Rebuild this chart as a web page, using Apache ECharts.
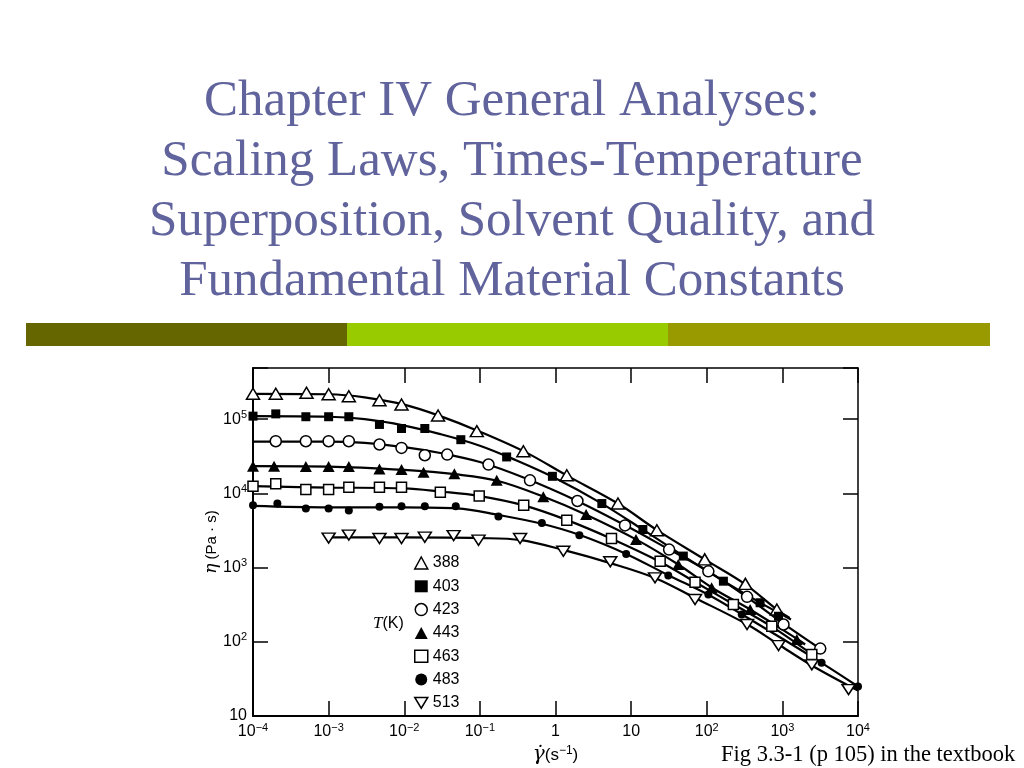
<!DOCTYPE html>
<html><head><meta charset="utf-8">
<script src="https://cdn.jsdelivr.net/npm/echarts@6/dist/echarts.min.js"></script>
<style>html,body{margin:0;padding:0;background:#fff}#c{width:1024px;height:768px}</style>
</head><body><div id="c"></div>
<script>
// ---------- text ----------
const titleLines = [
  'Chapter IV General Analyses:',
  'Scaling Laws, Times-Temperature',
  'Superposition, Solvent Quality, and',
  'Fundamental Material Constants'
];
const caption = 'Fig 3.3-1 (p 105) in the textbook';
const temps = ['388', '403', '423', '443', '463', '483', '513'];

// ---------- measured points [shear rate s^-1, viscosity Pa.s] ----------
const pts388 = [[1e-4,2.2e5],[2e-4,2.2e5],[5.1e-4,2.27e5],[1e-3,2.17e5],[1.85e-3,2.04e5],[4.7e-3,1.8e5],[9.2e-3,1.58e5],[0.028,1.12e5],[0.091,6.9e4],[0.376,3.7e4],[1.41,1.76e4],[6.7,7.3e3],[21.9,3.19e3],[94,1.29e3],[324,603],[845,272]];
const pts403 = [[1e-4,1.1e5],[2e-4,1.18e5],[5e-4,1.08e5],[1e-3,1.08e5],[1.85e-3,1.08e5],[4.7e-3,8.5e4],[9.2e-3,7.5e4],[0.0187,7.5e4],[0.056,5.3e4],[0.226,3.1e4],[0.91,1.7e4],[4.1,7.3e3],[14.3,3.26e3],[49,1.43e3],[166,656],[508,336],[888,221]];
const pts423 = [[2e-4,5.05e4],[5e-4,5.05e4],[1e-3,5.05e4],[1.85e-3,5.05e4],[4.7e-3,4.56e4],[9.2e-3,4.1e4],[0.0187,3.27e4],[0.037,3.34e4],[0.13,2.45e4],[0.46,1.5e4],[1.95,7.9e3],[8.3,3.7e3],[31.8,1.75e3],[105,890],[341,404],[1035,171],[3170,81]];
const pts443 = [[1e-4,2.33e4],[1.9e-4,2.33e4],[5e-4,2.3e4],[1e-3,2.3e4],[1.85e-3,2.3e4],[4.7e-3,2.14e4],[9.2e-3,2.1e4],[0.018,1.93e4],[0.046,1.84e4],[0.167,1.5e4],[0.69,9e3],[2.54,5.2e3],[11.6,2.4e3],[42,1.1e3],[116,535],[375,272],[1550,107]];
const pts463 = [[1e-4,1.25e4],[2e-4,1.35e4],[5e-4,1.13e4],[1e-3,1.13e4],[1.85e-3,1.21e4],[4.7e-3,1.21e4],[9.2e-3,1.21e4],[0.030,1.04e4],[0.098,9.2e3],[0.38,6.9e3],[1.41,4.35e3],[5.5,2.47e3],[24.2,1.22e3],[70,636],[225,318],[725,162],[2450,67.5]];
const pts483 = [[1e-4,6.9e3],[2.1e-4,7.3e3],[5e-4,6.25e3],[1e-3,6.25e3],[1.85e-3,5.9e3],[4.7e-3,6.6e3],[9.2e-3,6.7e3],[0.0187,6.7e3],[0.048,6.7e3],[0.176,4.9e3],[0.66,4.0e3],[2.07,2.74e3],[8.6,1.53e3],[31,783],[105,434],[290,233],[3300,52],[1e4,25]];
const pts513 = [[1e-3,2.5e3],[1.85e-3,2.74e3],[4.7e-3,2.47e3],[9.2e-3,2.47e3],[0.0187,2.57e3],[0.045,2.7e3],[0.096,2.34e3],[0.34,2.47e3],[1.27,1.66e3],[5.3,1.2e3],[20.7,728],[70,372],[341,171],[890,89],[2450,49],[7500,22.7]];

// ---------- fitted curves ----------
const fit388 = [[1e-4,2.2e5],[1e-3,2.17e5],[3e-3,1.97e5],[1e-2,1.57e5],[0.03,1.1e5],[0.1,6.8e4],[0.4,3.6e4],[1.4,1.75e4],[6.7,7.3e3],[22,3.2e3],[95,1.28e3],[320,600],[850,272],[1250,210]];
const fit403 = [[1e-4,1.1e5],[1e-3,1.08e5],[3e-3,1.0e5],[1e-2,8.2e4],[0.03,6.3e4],[0.1,4.4e4],[0.3,2.8e4],[1,1.6e4],[4,7.4e3],[14,3.3e3],[50,1.42e3],[170,650],[500,340],[1300,200]];
const fit423 = [[1e-4,5.0e4],[1e-3,5.0e4],[3e-3,4.8e4],[1e-2,4.2e4],[0.03,3.5e4],[0.1,2.65e4],[0.4,1.6e4],[2,7.8e3],[8,3.8e3],[32,1.75e3],[105,890],[340,400],[1000,180],[3200,80]];
const fit443 = [[1e-4,2.33e4],[1e-3,2.3e4],[1e-2,2.07e4],[0.05,1.8e4],[0.17,1.48e4],[0.7,9.0e3],[2.5,5.2e3],[11.6,2.4e3],[42,1.1e3],[116,540],[375,272],[1550,110],[2000,92]];
const fit463 = [[1e-4,1.25e4],[1e-3,1.2e4],[1e-2,1.17e4],[0.03,1.06e4],[0.1,9.2e3],[0.38,6.9e3],[1.4,4.4e3],[5.5,2.45e3],[24,1.2e3],[70,640],[225,320],[725,160],[2450,68]];
const fit483 = [[1e-4,6.8e3],[1e-3,6.5e3],[1e-2,6.5e3],[0.05,6.3e3],[0.18,5.1e3],[0.66,3.9e3],[2.1,2.75e3],[8.6,1.53e3],[31,790],[105,430],[290,235],[1000,110],[3300,52],[1e4,25]];
const fit513 = [[1e-3,2.55e3],[1e-2,2.55e3],[0.1,2.5e3],[0.35,2.35e3],[1.3,1.72e3],[5.3,1.15e3],[21,720],[70,390],[340,172],[890,92],[2450,48],[1e4,22]];

const points = [pts388, pts403, pts423, pts443, pts463, pts483, pts513];
const fits = [fit388, fit403, fit423, fit443, fit463, fit483, fit513];

// ---------- marker styles ----------
const INV_TRI = 'path://M0,0L12,0L6,10Z';
const markers = [
  {symbol: 'triangle', size: [13, 11], fill: '#fff'},
  {symbol: 'rect', size: [9, 9], fill: '#000'},
  {symbol: 'circle', size: 11, fill: '#fff'},
  {symbol: 'triangle', size: [12, 11], fill: '#000'},
  {symbol: 'rect', size: [10, 10], fill: '#fff'},
  {symbol: 'circle', size: 8, fill: '#000'},
  {symbol: INV_TRI, size: [13, 10], fill: '#fff'}
];

const SANS = 'Liberation Sans';
const SERIF = 'Liberation Serif';

function expOf(v) {
  const l = Math.log10(v);
  const e = Math.round(l);
  return Math.abs(l - e) < 1e-6 ? e : null;
}
function powLabel(v) {
  const e = expOf(v);
  if (e === null) return '';
  if (e === 0) return '{n|1}';
  if (e === 1) return '{n|10}';
  return '{n|10}{s|' + String(e).replace('-', '\u2212') + '}';
}
const richLab = {
  n: {fontSize: 16, fontFamily: SANS, color: '#000', lineHeight: 20},
  s: {fontSize: 11, fontFamily: SANS, color: '#000', verticalAlign: 'top', lineHeight: 13}
};

const series = [];
temps.forEach((t, i) => {
  series.push({
    name: t + ' fit', type: 'line', data: fits[i], showSymbol: false, symbol: 'none',
    smooth: 0.35, lineStyle: {color: '#000', width: 2.2}, z: 2, silent: true
  });
});
temps.forEach((t, i) => {
  const m = markers[i];
  series.push({
    name: t, type: 'scatter', data: points[i], symbol: m.symbol, symbolSize: m.size,
    itemStyle: {color: m.fill, borderColor: '#000', borderWidth: m.fill === '#fff' ? 1.5 : 0, opacity: 1},
    z: 3, silent: true
  });
});

const titleGraphics = titleLines.map((line, i) => ({
  type: 'text', silent: true,
  style: {x: 512, y: 102 + i * 60, text: line, textAlign: 'center', textVerticalAlign: 'middle',
    fill: '#60639c', font: '51px ' + SERIF}
}));

const chart = echarts.init(document.getElementById('c'), null, {renderer: 'canvas'});
const axisCommon = {
  type: 'log', logBase: 10,
  splitLine: {show: false},
  axisLine: {show: true, onZero: false, lineStyle: {color: '#000', width: 2}},
  axisTick: {show: true, inside: true, length: 15, lineStyle: {color: '#000', width: 1.5}}
};
chart.setOption({
  animation: false,
  backgroundColor: '#fff',
  grid: {left: 253, right: 166, top: 368, bottom: 52, containLabel: false},
  xAxis: [
    Object.assign({}, axisCommon, {
      position: 'bottom', min: 1e-4, max: 1e4,
      axisLabel: {formatter: powLabel, rich: richLab, margin: 6},
      name: '{g|\u03B3\u0307}{p|(s}{s|\u22121}{p|)}', nameLocation: 'middle', nameGap: 29,
      nameMoveOverlap: false,
      nameTextStyle: {rich: {
        g: {fontSize: 20, fontFamily: 'DejaVu Serif', color: '#000', fontStyle: 'italic'},
        p: {fontSize: 17, fontFamily: SANS, color: '#000'},
        s: {fontSize: 12, fontFamily: SANS, color: '#000', verticalAlign: 'top'}
      }}
    }),
    Object.assign({}, axisCommon, {
      position: 'top', min: 1e-4, max: 1e4, axisLabel: {show: false},
      axisLine: {show: true, onZero: false, lineStyle: {color: '#000', width: 1.5}}
    })
  ],
  yAxis: [
    Object.assign({}, axisCommon, {
      position: 'left', min: 10, max: 4.9e5,
      axisLabel: {formatter: powLabel, rich: richLab, margin: 6},
      name: '{i|\u03B7} (Pa \u00B7 s)', nameLocation: 'middle', nameGap: 33, nameRotate: 90,
      nameMoveOverlap: false,
      nameTextStyle: {fontSize: 15, fontFamily: SANS, color: '#000', rich: {
        i: {fontSize: 17, fontFamily: 'DejaVu Serif', fontStyle: 'italic', color: '#000'}
      }}
    }),
    Object.assign({}, axisCommon, {
      position: 'right', min: 10, max: 4.9e5, axisLabel: {show: false},
      axisLine: {show: true, onZero: false, lineStyle: {color: '#000', width: 1.5}}
    })
  ],
  legend: {
    orient: 'vertical', left: 409, top: 550, itemWidth: 13, itemHeight: 12, itemGap: 7.3,
    selectedMode: false,
    textStyle: {fontSize: 16, fontFamily: SANS, color: '#000', lineHeight: 16},
    data: temps.map((t, i) => ({
      name: t,
      icon: markers[i].symbol,
      itemStyle: {color: markers[i].fill, borderColor: '#000', borderWidth: markers[i].fill === '#fff' ? 1.5 : 0}
    }))
  },
  graphic: titleGraphics.concat([
    {type: 'rect', shape: {x: 26, y: 323, width: 321, height: 23}, style: {fill: '#666600'}, silent: true},
    {type: 'rect', shape: {x: 347, y: 323, width: 321, height: 23}, style: {fill: '#99cc00'}, silent: true},
    {type: 'rect', shape: {x: 668, y: 323, width: 322, height: 23}, style: {fill: '#999900'}, silent: true},
    {type: 'text', silent: true, style: {
      x: 373, y: 624, textVerticalAlign: 'middle',
      text: '{i|T}{r|(K)}',
      rich: {i: {fontSize: 17, fontFamily: SERIF, fontStyle: 'italic', fill: '#000'},
             r: {fontSize: 16, fontFamily: SANS, fill: '#000'}}
    }},
    {type: 'text', silent: true, style: {x: 721, y: 755, textVerticalAlign: 'middle', text: caption, fill: '#000', font: '22.5px ' + SERIF}}
  ]),
  series: series
});
</script>
</body></html>
